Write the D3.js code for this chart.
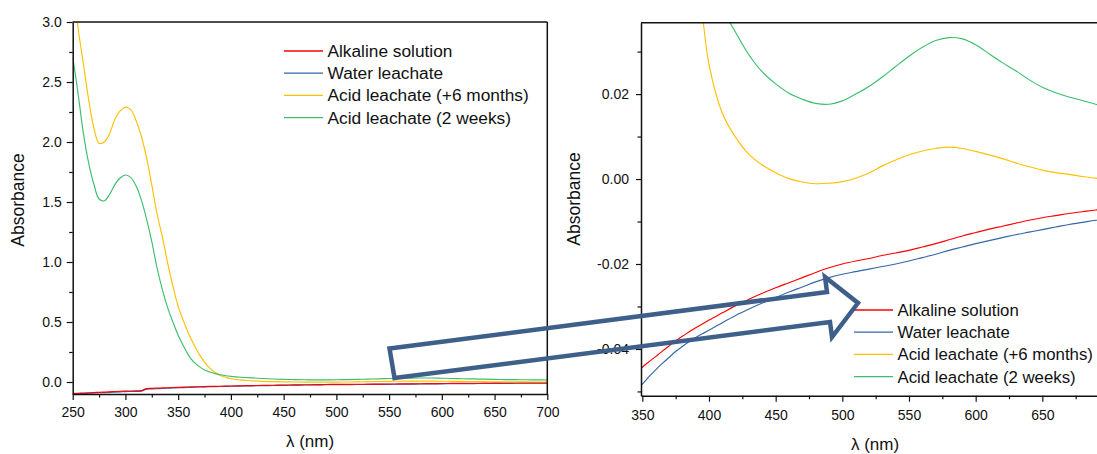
<!DOCTYPE html>
<html>
<head>
<meta charset="utf-8">
<script src="https://cdn.jsdelivr.net/npm/d3@7/dist/d3.min.js"></script>
<style>
  html, body { margin: 0; padding: 0; background: #fff; }
  svg { display: block; font-family: "Liberation Sans", Arial, sans-serif; }
</style>
</head>
<body>
<svg id="chart" width="1097" height="454"></svg>
<script>
// ---------------- DATA ----------------
const wavelengths = [250,255,260,265,270,275,280,285,290,295,300,305,310,315,320,325,330,335,340,345,
  350,355,360,365,370,375,380,385,390,395,400,410,420,430,440,450,460,470,480,490,500,510,520,530,540,
  550,560,570,580,590,600,610,620,630,640,650,660,670,680,690,700];

const alkalineSolution = [-0.096,-0.094,-0.092,-0.090,-0.088,-0.086,-0.084,-0.082,-0.079,-0.077,-0.076,-0.075,-0.074,-0.072,-0.055,-0.053,-0.051,-0.0495,-0.048,-0.046,
  -0.0443,-0.0430,-0.0418,-0.0405,-0.0393,-0.0381,-0.0370,-0.0360,-0.0350,-0.0341,-0.0332,-0.0315,-0.0298,-0.0283,-0.0269,-0.0256,-0.0244,-0.0232,-0.0220,-0.0209,-0.0200,-0.0193,-0.0187,-0.0180,-0.0174,
  -0.0168,-0.0160,-0.0152,-0.0143,-0.0134,-0.0126,-0.0118,-0.0111,-0.0104,-0.0097,-0.0091,-0.0086,-0.0081,-0.0077,-0.0073,-0.0070];

const waterLeachate = [-0.100,-0.098,-0.096,-0.094,-0.092,-0.090,-0.088,-0.086,-0.084,-0.082,-0.080,-0.079,-0.078,-0.076,-0.060,-0.058,-0.056,-0.054,-0.052,-0.050,
  -0.0483,-0.0465,-0.0449,-0.0434,-0.0420,-0.0406,-0.0394,-0.0383,-0.0373,-0.0364,-0.0356,-0.0338,-0.0321,-0.0306,-0.0292,-0.0279,-0.0266,-0.0254,-0.0242,-0.0232,-0.0224,-0.0218,-0.0212,-0.0206,-0.0200,
  -0.0193,-0.0185,-0.0177,-0.0168,-0.0160,-0.0152,-0.0145,-0.0138,-0.0131,-0.0125,-0.0119,-0.0113,-0.0107,-0.0102,-0.0097,-0.0093];

const acidSixMonths = [3.40,2.96,2.66,2.36,2.12,1.99,2.00,2.07,2.19,2.26,2.29,2.27,2.18,2.05,1.87,1.64,1.40,1.21,0.99,0.80,
  0.63,0.51,0.40,0.31,0.23,0.165,0.115,0.080,0.055,0.039,0.027,0.0155,0.0098,0.0058,0.0033,0.0015,0.0001,-0.0007,-0.0011,-0.0010,-0.0006,0.0002,0.0014,0.0031,0.0045,
  0.0057,0.0066,0.0072,0.0075,0.0072,0.0065,0.0057,0.0048,0.0038,0.0029,0.0021,0.0015,0.0011,0.0006,0.0002,0.0000];

const acidTwoWeeks = [2.71,2.41,2.08,1.83,1.65,1.525,1.51,1.565,1.645,1.70,1.725,1.705,1.635,1.52,1.36,1.17,0.95,0.77,0.62,0.50,
  0.39,0.30,0.22,0.165,0.128,0.100,0.083,0.070,0.060,0.052,0.047,0.0400,0.0345,0.0292,0.0252,0.0224,0.0202,0.0188,0.0178,0.0176,0.0184,0.0200,0.0218,0.0240,0.0265,
  0.0289,0.0310,0.0326,0.0333,0.0330,0.0316,0.0295,0.0274,0.0255,0.0234,0.0216,0.0203,0.0193,0.0185,0.0176,0.0170];

const seriesNames = ["Alkaline solution", "Water leachate", "Acid leachate (+6 months)", "Acid leachate (2 weeks)"];
const seriesColors = ["#ff0000", "#3466a8", "#ffc000", "#3dbe6c"];

const leftXTicks = [250,300,350,400,450,500,550,600,650,700];
const leftXMinor = [275,325,375,425,475,525,575,625,675];
const leftYTicks = [0.0,0.5,1.0,1.5,2.0,2.5,3.0];
const leftYMinor = [0.25,0.75,1.25,1.75,2.25,2.75];
const rightXTicks = [350,400,450,500,550,600,650];
const rightXMinor = [375,425,475,525,575,625,675];
const rightYTicks = [-0.04,-0.02,0.00,0.02];
const rightYMinor = [-0.05,-0.03,-0.01,0.01,0.03];

const xTitle = "λ (nm)";
const yTitle = "Absorbance";

// ---------------- DRAW ----------------
const svg = d3.select("#chart");
const seriesValues = [alkalineSolution, waterLeachate, acidSixMonths, acidTwoWeeks];
const series = seriesNames.map((name, i) => ({
  name, color: seriesColors[i],
  points: wavelengths.map((w, j) => ({ x: w, y: seriesValues[i][j] }))
}));

function panel(cfg) {
  const g = svg.append("g");
  const x = d3.scaleLinear().domain(cfg.xDomain).range(cfg.xRange);
  const y = d3.scaleLinear().domain(cfg.yDomain).range(cfg.yRange);
  const clipId = "clip-" + cfg.id;
  svg.append("defs").append("clipPath").attr("id", clipId)
    .append("rect")
    .attr("x", cfg.xRange[0]).attr("y", cfg.yRange[1])
    .attr("width", cfg.xRange[1] - cfg.xRange[0]).attr("height", cfg.yRange[0] - cfg.yRange[1]);

  const line = d3.line().x(d => x(d.x)).y(d => y(d.y)).curve(d3.curveCatmullRom.alpha(0.5));
  const lines = g.append("g").attr("clip-path", `url(#${clipId})`);
  const order = [1, 0, 2, 3];
  order.forEach(i => {
    lines.append("path").datum(series[i].points)
      .attr("d", line).attr("fill", "none")
      .attr("stroke", series[i].color).attr("stroke-width", 1.15);
  });

  // minor ticks
  g.append("g").attr("transform", `translate(0,${cfg.yRange[0]})`)
    .call(d3.axisBottom(x).tickValues(cfg.xMinor).tickSize(3.5).tickSizeOuter(0).tickFormat(""))
    .call(a => a.select(".domain").remove());
  g.append("g").attr("transform", `translate(${cfg.xRange[0]},0)`)
    .call(d3.axisLeft(y).tickValues(cfg.yMinor).tickSize(3.5).tickSizeOuter(0).tickFormat(""))
    .call(a => a.select(".domain").remove());

  // major axes
  const xa = g.append("g").attr("transform", `translate(0,${cfg.yRange[0]})`)
    .call(d3.axisBottom(x).tickValues(cfg.xTicks).tickSize(6).tickSizeOuter(0)
      .tickPadding(cfg.xPad).tickFormat(d3.format("d")));
  const ya = g.append("g").attr("transform", `translate(${cfg.xRange[0]},0)`)
    .call(d3.axisLeft(y).tickValues(cfg.yTicks).tickSize(cfg.yTickSize).tickSizeOuter(0)
      .tickPadding(cfg.yPad).tickFormat(d => d.toFixed(cfg.yDec)));
  [xa, ya].forEach(a => {
    a.selectAll("text").attr("font-size", 14).attr("fill", "#111")
      .attr("font-family", "'Liberation Sans', Arial, sans-serif");
  });
  g.selectAll(".domain").attr("stroke", "#111").attr("stroke-width", 1.5);
  g.selectAll(".tick line").attr("stroke", "#111").attr("stroke-width", 1.2);

  // frame
  g.append("line").attr("x1", cfg.xRange[0]).attr("x2", Math.min(cfg.xRange[1], 1097))
    .attr("y1", cfg.yRange[1]).attr("y2", cfg.yRange[1]).attr("stroke", "#111").attr("stroke-width", 1.5);
  if (cfg.rightFrame) {
    g.append("line").attr("x1", cfg.xRange[1]).attr("x2", cfg.xRange[1])
      .attr("y1", cfg.yRange[1]).attr("y2", cfg.yRange[0]).attr("stroke", "#111").attr("stroke-width", 1.5);
  }

  // titles
  g.append("text").attr("x", cfg.xTitlePos[0]).attr("y", cfg.xTitlePos[1])
    .attr("text-anchor", "middle").attr("font-size", 17).attr("fill", "#111").text(xTitle);
  g.append("text").attr("transform", `translate(${cfg.yTitlePos[0]},${cfg.yTitlePos[1]}) rotate(-90)`)
    .attr("text-anchor", "middle").attr("font-size", 17.5).attr("fill", "#111").text(yTitle);

  // legend
  const lg = g.append("g").attr("transform", `translate(${cfg.legend[0]},${cfg.legend[1]})`);
  series.forEach((s, i) => {
    const row = lg.append("g").attr("transform", `translate(0,${i * 22.2})`);
    row.append("line").attr("x1", 0).attr("x2", 39).attr("y1", 0).attr("y2", 0)
      .attr("stroke", s.color).attr("stroke-width", 1.3);
    row.append("text").attr("x", 43.5).attr("y", 6).attr("font-size", cfg.legendFont)
      .attr("fill", "#111").text(s.name);
  });
  return { x, y };
}

panel({
  id: "left",
  xDomain: [250, 700], xRange: [72.7, 547.3],
  yDomain: [-0.1, 3.0], yRange: [394, 22],
  xTicks: leftXTicks, xMinor: leftXMinor, yTicks: leftYTicks, yMinor: leftYMinor,
  xPad: 7, yPad: 5, yTickSize: 6, yDec: 1, rightFrame: true, legendFont: 17.3,
  xTitlePos: [310, 447], yTitlePos: [24, 200], legend: [284, 51]
});

panel({
  id: "right",
  xDomain: [349, 700], xRange: [641, 1109],
  yDomain: [-0.051, 0.0368], yRange: [395.7, 22.7],
  xTicks: rightXTicks, xMinor: rightXMinor, yTicks: rightYTicks, yMinor: rightYMinor,
  xPad: 8.5, yPad: 7, yTickSize: 5, yDec: 2, rightFrame: false, legendFont: 16.8,
  xTitlePos: [875, 450], yTitlePos: [580, 199], legend: [854, 310]
});

// zoom arrow annotation (pixel-space outline)
const arrowOutline = [[389.5,348.5],[827,292],[825,277],[858,303],[832,337],[830,322],[394.5,378]];
svg.append("path")
  .attr("d", d3.line()(arrowOutline) + "Z")
  .attr("fill", "none").attr("stroke", "#3e5f8a").attr("stroke-width", 4.5)
  .attr("stroke-linejoin", "miter");
</script>
</body>
</html>
